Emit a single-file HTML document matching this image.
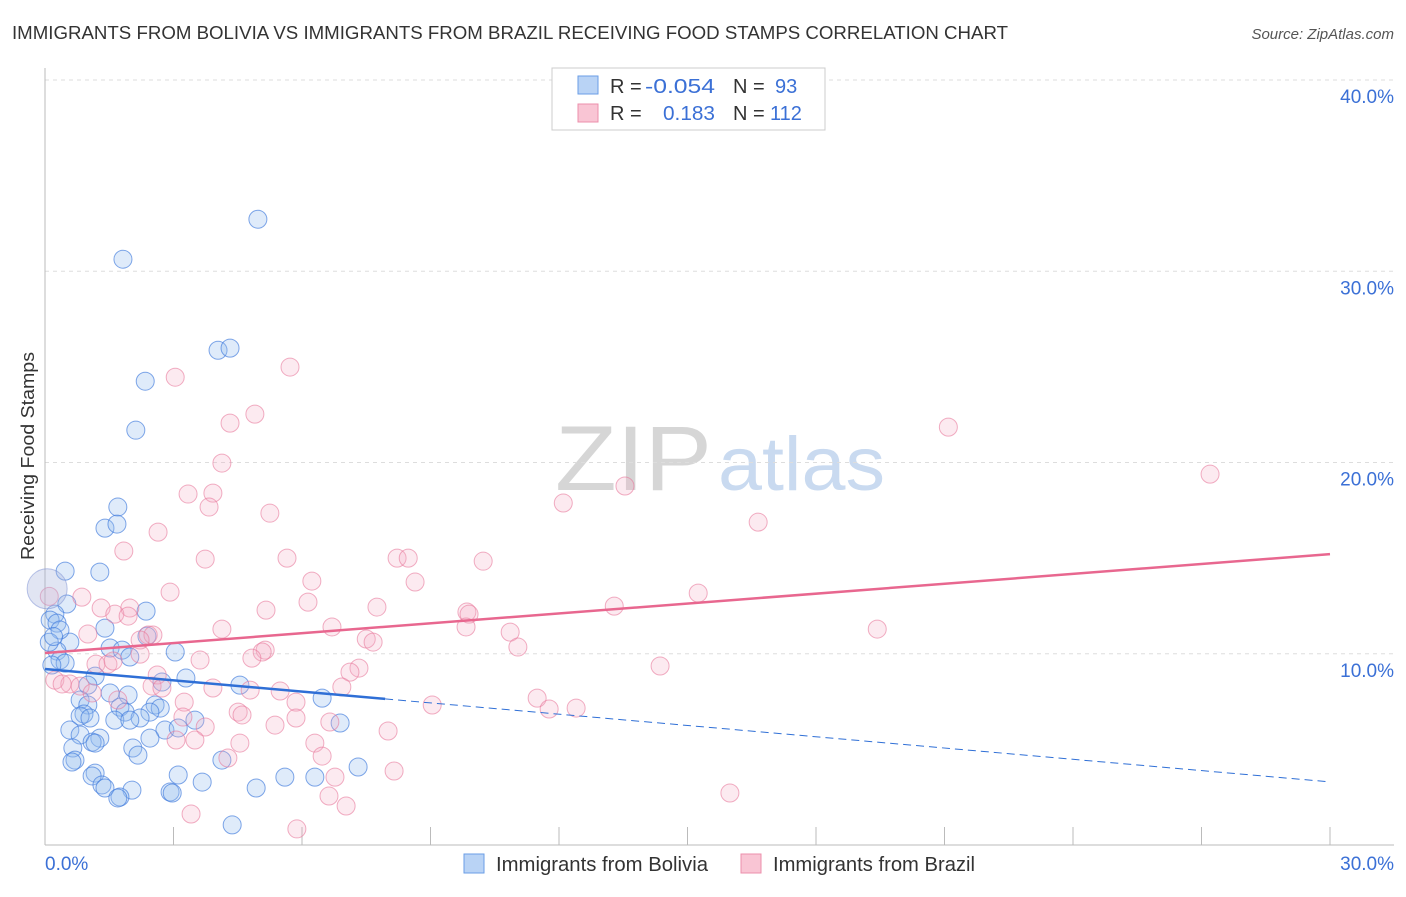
<!DOCTYPE html>
<html><head><meta charset="utf-8">
<style>
body{margin:0;background:#fff;font-family:"Liberation Sans",sans-serif;}
svg text{font-family:"Liberation Sans",sans-serif;}
</style></head>
<body>
<svg id="chart" width="1406" height="892" viewBox="0 0 1406 892" xmlns="http://www.w3.org/2000/svg">
<text x="12" y="39" font-size="18.5" fill="#333" textLength="996" lengthAdjust="spacingAndGlyphs">IMMIGRANTS FROM BOLIVIA VS IMMIGRANTS FROM BRAZIL RECEIVING FOOD STAMPS CORRELATION CHART</text>
<text x="1394" y="39" font-size="15" fill="#555" font-style="italic" text-anchor="end">Source: ZipAtlas.com</text>
<g>
<text x="712" y="490" font-size="92" fill="#d6d6d6" text-anchor="end" font-family="Liberation Serif, serif" textLength="157" lengthAdjust="spacingAndGlyphs">ZIP</text>
<text x="718" y="490" font-size="76" fill="#c9daf0" textLength="167" lengthAdjust="spacingAndGlyphs">atlas</text>
</g>
<g id="grid"></g>
<g id="axes"></g>
<g id="trends"></g>
<g id="pts"></g>
<text transform="translate(34,456) rotate(-90)" font-size="18" fill="#333" text-anchor="middle" textLength="208" lengthAdjust="spacingAndGlyphs">Receiving Food Stamps</text>
<g>
<rect x="552" y="68" width="273" height="62" fill="#fff" stroke="#ccc"/>
<rect x="578" y="76" width="20" height="18" fill="#b9d3f5" stroke="#6a9ee6"/>
<rect x="578" y="104" width="20" height="18" fill="#f9c5d4" stroke="#ec8fab"/>
<text x="610" y="93" font-size="20" fill="#333">R =</text>
<text x="645" y="93" font-size="20" fill="#3b70d6" textLength="70" lengthAdjust="spacingAndGlyphs">-0.054</text>
<text x="733" y="93" font-size="20" fill="#333">N =</text>
<text x="775" y="93" font-size="20" fill="#3b70d6">93</text>
<text x="610" y="120" font-size="20" fill="#333">R =</text>
<text x="663" y="120" font-size="20" fill="#3b70d6" textLength="52" lengthAdjust="spacingAndGlyphs">0.183</text>
<text x="733" y="120" font-size="20" fill="#333">N =</text>
<text x="770" y="120" font-size="20" fill="#3b70d6">112</text>
</g>
<g>
<rect x="464" y="854" width="20" height="19" fill="#b9d3f5" stroke="#6a9ee6"/>
<text x="496" y="871" font-size="20" fill="#333" textLength="212" lengthAdjust="spacingAndGlyphs">Immigrants from Bolivia</text>
<rect x="741" y="854" width="20" height="19" fill="#f9c5d4" stroke="#ec8fab"/>
<text x="773" y="871" font-size="20" fill="#333" textLength="202" lengthAdjust="spacingAndGlyphs">Immigrants from Brazil</text>
</g>
</svg>
<script>
const yTicks=[10,20,30,40];
const yTickLabels=["10.0%","20.0%","30.0%","40.0%"];
const xTickLabels=["0.0%","30.0%"];
const boliviaX=[4.97,1.82,4.04,4.32,2.34,2.12,1.70,1.40,1.68,0.47,1.28,0.51,0.23,2.36,0.12,0.28,0.58,2.38,3.04,1.52,1.80,0.28,0.35,0.47,0.16,1.17,1.00,3.29,1.94,2.73,4.55,6.47,1.52,0.82,1.00,1.75,2.57,2.69,0.91,0.82,1.05,1.87,2.45,2.22,1.63,1.98,3.50,0.58,2.80,3.11,6.89,0.82,1.28,1.10,2.45,1.17,0.65,2.05,2.17,0.70,0.63,4.13,7.31,1.17,1.10,3.11,5.60,6.30,1.33,1.40,2.03,3.67,4.93,1.75,1.70,2.92,2.97,4.37,0.35,1.40,1.98,0.10,0.20];
const boliviaY=[32.72,30.63,25.87,25.98,24.25,21.69,17.67,16.57,16.78,14.32,14.27,12.60,12.07,12.23,11.76,11.60,10.61,10.92,10.09,10.30,10.19,10.14,9.67,9.51,9.41,8.83,8.36,8.73,7.84,8.52,8.36,7.68,7.95,7.58,7.32,7.21,7.32,7.16,6.85,6.74,6.64,6.95,6.95,6.64,6.53,6.53,6.53,6.01,6.01,6.12,6.38,5.75,5.59,5.38,5.59,5.33,5.07,5.07,4.70,4.44,4.34,4.44,4.08,3.76,3.61,3.66,3.55,3.55,3.14,2.98,2.87,3.29,2.98,2.51,2.46,2.77,2.72,1.05,11.24,11.34,9.83,10.6,10.9];
const brazilX=[5.72,3.04,4.90,4.32,21.09,4.13,27.20,3.34,3.92,3.83,5.25,12.10,13.54,16.65,2.64,1.84,3.74,5.65,8.22,8.48,10.23,6.23,8.64,2.92,0.86,15.25,7.75,13.29,5.16,1.31,1.98,1.63,1.94,9.85,9.90,6.14,1.00,4.13,6.70,9.83,10.86,19.43,2.41,2.52,2.22,7.50,7.66,5.14,5.07,4.83,11.04,3.62,1.19,1.47,1.59,2.22,14.36,7.33,7.12,2.62,0.23,0.58,0.40,0.82,1.10,2.50,2.73,3.92,4.79,5.49,6.93,1.70,3.25,5.86,9.04,11.49,11.77,12.40,4.51,4.60,3.22,5.86,5.37,6.65,8.01,3.74,3.06,3.50,4.55,6.30,6.47,4.27,8.15,6.77,6.63,7.03,15.99,3.41,5.88,0.1];
const brazilY=[24.99,24.46,22.53,22.06,21.85,19.97,19.39,18.35,18.40,17.67,17.35,17.88,18.77,16.88,16.36,15.37,14.95,15.00,15.00,15.00,14.84,13.80,13.75,13.22,12.96,13.17,12.44,12.49,12.28,12.39,12.39,12.07,11.97,12.18,12.07,12.70,11.03,11.29,11.40,11.40,11.13,11.29,10.98,10.98,10.72,10.77,10.61,10.19,10.09,9.77,10.35,9.67,9.46,9.46,9.62,9.98,9.36,9.25,9.04,8.89,8.62,8.42,8.42,8.31,7.95,8.31,8.21,8.21,8.10,8.05,8.26,7.58,7.47,7.47,7.32,7.68,7.11,7.16,6.95,6.80,6.69,6.64,6.27,6.43,5.96,6.17,5.49,5.49,5.33,5.33,4.65,4.55,3.87,3.55,2.56,2.04,2.72,1.62,0.84,13.0];
const brazilTrend=[10.04,15.21];
const boliviaTrend=[9.2,3.3];
const boliviaSolidEnd=7.94;

const X0=45,X1=1330,Y0=845,Ytop=80;
function sx(v){return X0+(X1-X0)*v/30;}
function sy(v){return Y0-(Y0-Ytop)*v/40;}
const NS="http://www.w3.org/2000/svg";
function mk(tag,attrs,parent){const e=document.createElementNS(NS,tag);for(const k in attrs)e.setAttribute(k,attrs[k]);parent.appendChild(e);return e;}
const grid=document.getElementById('grid'),axes=document.getElementById('axes'),trends=document.getElementById('trends'),pts=document.getElementById('pts');
yTicks.forEach((t,i)=>{
  const l=mk('line',{x1:X0,x2:1394,y1:sy(t),y2:sy(t),stroke:'#ddd','stroke-dasharray':'4,4'},grid);
  
  
  const tx=mk('text',{x:1394,y:sy(t)+23,'font-size':19,fill:'#3b70d6','text-anchor':'end'},axes);
  tx.textContent=yTickLabels[i];
  
  
});
const ya=mk('line',{x1:X0,x2:X0,y1:68,y2:Y0,stroke:'#bbb'},axes);


const xa=mk('line',{x1:X0,x2:1394,y1:Y0,y2:Y0,stroke:'#bbb'},axes);


for(let i=1;i<=10;i++){
  const t=mk('line',{x1:sx(i*3),x2:sx(i*3),y1:827,y2:Y0,stroke:'#bbb'},axes);
  
  
}
const xl0=mk('text',{x:45,y:870,'font-size':19,fill:'#3b70d6'},axes);
xl0.textContent=xTickLabels[0];


const xl1=mk('text',{x:1394,y:870,'font-size':19,fill:'#3b70d6','text-anchor':'end'},axes);
xl1.textContent=xTickLabels[1];



boliviaX.forEach((x,i)=>{
  const c=mk('circle',{cx:sx(x),cy:sy(boliviaY[i]),r:9,fill:'rgba(150,190,240,0.3)',stroke:'rgba(60,120,220,0.65)','stroke-width':1},pts);
  
  
});
brazilX.forEach((x,i)=>{
  const c=mk('circle',{cx:sx(x),cy:sy(brazilY[i]),r:9,fill:'rgba(245,170,195,0.25)',stroke:'rgba(232,120,155,0.6)','stroke-width':1},pts);
  
  
});
const bigc=mk('circle',{cx:sx(0.05),cy:sy(13.4),r:20,fill:'rgba(170,180,220,0.35)',stroke:'rgba(120,140,210,0.5)'},pts);



const pt=mk('line',{x1:sx(0),y1:sy(brazilTrend[0]),x2:sx(30),y2:sy(brazilTrend[1]),stroke:'#e8678f','stroke-width':2.5},trends);


const bEnd=boliviaTrend[0]+(boliviaTrend[1]-boliviaTrend[0])*boliviaSolidEnd/30;
const bs=mk('line',{x1:sx(0),y1:sy(boliviaTrend[0]),x2:sx(boliviaSolidEnd),y2:sy(bEnd),stroke:'#2f6fd6','stroke-width':2.5},trends);


const bd=mk('line',{x1:sx(boliviaSolidEnd),y1:sy(bEnd),x2:sx(30),y2:sy(boliviaTrend[1]),stroke:'#2f6fd6','stroke-width':1,'stroke-dasharray':'8,5'},trends);


trends.parentNode.appendChild(trends);
</script>
</body></html>
